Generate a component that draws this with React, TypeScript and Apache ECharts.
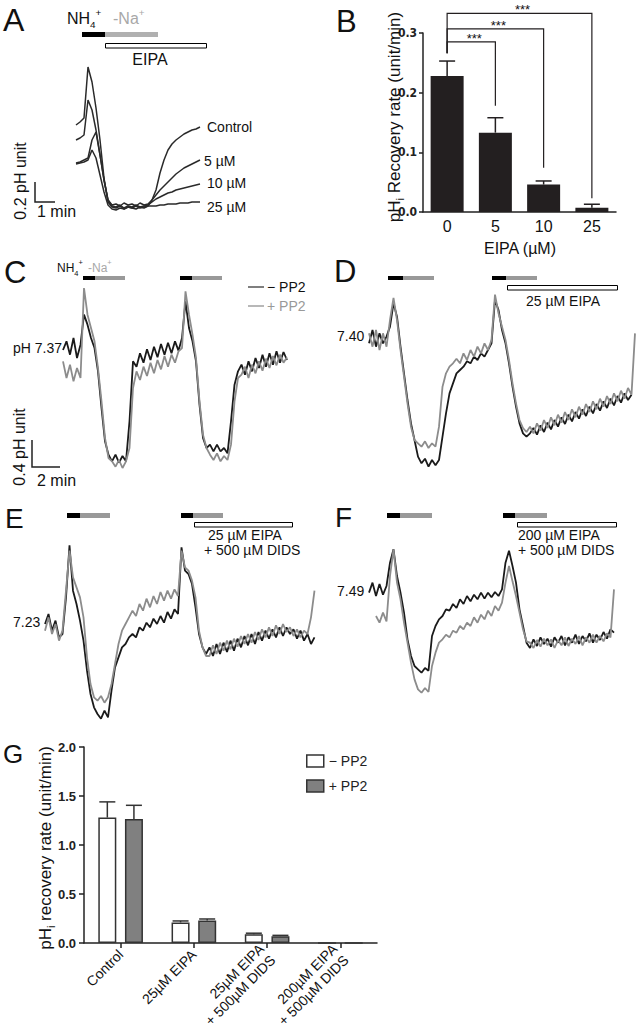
import React, { useEffect, useRef } from "react";
import * as echarts from "echarts";

const FONT = "'Liberation Sans', Arial, Helvetica, sans-serif";
const NARROW = "'Liberation Sans Narrow', 'DejaVu Sans Condensed', 'Liberation Sans', sans-serif";
const INK = "#1a1a1a";
const GREY = "#8c8c8c";

// ---------------- Panel A : pHi traces, EIPA dose (sampled every 0.2 min) ----------------
const A_SAMPLE_MIN = 0.2;
const A_CONTROL = [7.25, 7.28, 7.32, 7.83, 7.68, 7.42, 7.1, 6.72, 6.48, 6.43, 6.42, 6.44, 6.41, 6.43, 6.42, 6.44, 6.42, 6.43, 6.44, 6.5, 6.6, 6.77, 6.9, 7.0, 7.06, 7.1, 7.13, 7.16, 7.18, 7.2, 7.21, 7.23];
const A_5UM = [7.1, 7.12, 7.15, 7.5, 7.4, 7.2, 6.95, 6.7, 6.5, 6.45, 6.46, 6.44, 6.47, 6.45, 6.46, 6.44, 6.47, 6.45, 6.46, 6.5, 6.55, 6.6, 6.64, 6.68, 6.72, 6.76, 6.79, 6.82, 6.84, 6.86, 6.88, 6.9];
const A_10UM = [6.87, 6.88, 6.9, 6.92, 7.1, 7.18, 6.95, 6.7, 6.5, 6.44, 6.43, 6.45, 6.42, 6.44, 6.43, 6.45, 6.43, 6.44, 6.45, 6.48, 6.51, 6.53, 6.55, 6.57, 6.58, 6.6, 6.61, 6.62, 6.63, 6.64, 6.65, 6.66];
const A_25UM = [6.86, 6.87, 6.88, 6.9, 7.0, 6.92, 6.75, 6.58, 6.45, 6.41, 6.4, 6.42, 6.41, 6.43, 6.42, 6.41, 6.43, 6.42, 6.44, 6.44, 6.44, 6.45, 6.45, 6.46, 6.46, 6.46, 6.47, 6.47, 6.47, 6.48, 6.48, 6.48];
const A_LABELS = ["Control", "5 µM", "10 µM", "25 µM"];

// ---------------- Panel B : recovery rate vs EIPA ----------------
const B_EIPA = ["0", "5", "10", "25"];
const B_RATE = [0.228, 0.133, 0.046, 0.007];
const B_SEM = [0.025, 0.025, 0.006, 0.006];
const B_SIG_TO = [1, 2, 3];
const B_SIG_LEVEL = [0.285, 0.307, 0.333];
const B_SIG_DROP = [0.178, 0.074, 0.023];
const B_SIG_START = 0.266;
const B_SIG_TEXT = ["***", "***", "***"];

// ---------------- Panels C–F : pHi traces (sampled every 0.25 min) ----------------
const TRACE_SAMPLE_MIN = 0.25;
const C_MINUS = [7.37, 7.5, 7.3, 7.55, 7.25, 7.45, 7.9, 7.75, 7.55, 7.4, 7.05, 6.5, 6.0, 5.8, 5.7, 5.8, 5.68, 5.78, 5.7, 6.3, 7.2, 7.12, 7.32, 7.18, 7.38, 7.22, 7.42, 7.26, 7.46, 7.3, 7.48, 7.32, 7.5, 7.36, 7.55, 8.1, 7.7, 7.5, 7.2, 6.55, 6.05, 5.9, 5.95, 5.85, 5.95, 5.85, 5.9, 5.82, 6.3, 6.85, 7.05, 7.15, 7.0, 7.2, 7.05, 7.25, 7.1, 7.3, 7.12, 7.32, 7.15, 7.35, 7.18, 7.34, 7.22];
const C_PLUS = [7.2, 6.95, 7.15, 6.9, 7.1, 6.95, 8.3, 7.9, 7.7, 7.5, 7.1, 6.6, 6.05, 5.75, 5.7, 5.62, 5.72, 5.6, 5.7, 5.9, 6.8, 7.05, 6.92, 7.12, 6.98, 7.18, 7.02, 7.22, 7.08, 7.28, 7.12, 7.3, 7.18, 7.35, 7.4, 8.25, 7.9, 7.6, 7.25, 6.6, 6.1, 5.9, 5.8, 5.72, 5.82, 5.7, 5.78, 5.72, 5.95, 6.6, 6.95, 7.0, 7.12, 6.95, 7.15, 7.02, 7.2, 7.06, 7.24, 7.1, 7.28, 7.14, 7.3, 7.18, 7.26];
const D_MINUS = [7.35, 7.55, 7.3, 7.5, 7.35, 7.45, 7.6, 7.95, 7.75, 7.3, 6.9, 6.5, 6.15, 5.9, 5.65, 5.55, 5.62, 5.5, 5.6, 5.52, 5.6, 5.95, 6.3, 6.6, 6.75, 6.9, 6.95, 7.0, 7.08, 7.05, 7.15, 7.1, 7.2, 7.15, 7.25, 7.35, 8.0, 7.85, 7.55, 7.35, 7.05, 6.7, 6.4, 6.15, 6.0, 5.95, 6.0, 6.08, 5.98, 6.12, 6.02, 6.16, 6.06, 6.2, 6.1, 6.24, 6.14, 6.28, 6.18, 6.32, 6.22, 6.36, 6.26, 6.4, 6.3, 6.44, 6.34, 6.48, 6.38, 6.52, 6.42, 6.56, 6.46, 6.6, 6.5, 6.58];
const D_PLUS = [7.5, 7.3, 7.55, 7.25, 7.5, 7.3, 7.7, 8.03, 7.7, 7.25, 6.85, 6.45, 6.1, 5.9, 5.85, 5.8, 5.88, 5.78, 5.85, 5.8, 6.1, 6.7, 6.9, 7.0, 7.05, 7.12, 7.05, 7.2, 7.1, 7.25, 7.15, 7.3, 7.2, 7.35, 7.25, 7.4, 8.08, 7.8, 7.6, 7.4, 7.1, 6.75, 6.45, 6.2, 6.08, 6.02, 6.1, 6.0, 6.15, 6.04, 6.2, 6.08, 6.24, 6.12, 6.28, 6.16, 6.32, 6.2, 6.36, 6.24, 6.4, 6.28, 6.44, 6.32, 6.48, 6.36, 6.52, 6.4, 6.56, 6.44, 6.6, 6.48, 6.64, 6.52, 6.68, 6.58, 7.5];
const E_MINUS = [7.2, 7.35, 7.1, 7.25, 7.0, 7.05, 7.6, 8.38, 7.7, 7.5, 7.25, 6.95, 6.5, 6.15, 5.95, 5.85, 5.78, 5.9, 5.8, 6.2, 6.55, 6.7, 6.85, 6.9, 7.0, 7.05, 7.0, 7.15, 7.1, 7.22, 7.15, 7.28, 7.2, 7.32, 7.22, 7.38, 7.28, 7.42, 7.35, 8.35, 8.0, 7.95, 7.8, 7.45, 7.05, 6.85, 6.75, 6.85, 6.72, 6.9, 6.75, 6.92, 6.78, 6.95, 6.8, 6.98, 6.85, 7.02, 6.88, 7.05, 6.9, 7.08, 6.95, 7.1, 6.98, 7.12, 7.0, 7.15, 7.02, 7.15, 7.05, 7.12, 6.98, 7.1, 6.95, 7.05, 6.9, 7.0];
const E_PLUS = [7.1, 7.3, 7.05, 7.2, 6.95, 7.1, 7.7, 8.3, 7.9, 7.75, 7.6, 7.3, 6.7, 6.3, 6.1, 6.05, 6.12, 6.02, 6.1, 6.3, 6.6, 6.9, 7.1, 7.2, 7.3, 7.4, 7.32, 7.5, 7.4, 7.58, 7.45, 7.62, 7.5, 7.68, 7.55, 7.7, 7.58, 7.72, 7.62, 8.3, 8.05, 8.0, 7.85, 7.6, 7.1, 6.85, 6.72, 6.72, 6.88, 6.75, 6.92, 6.8, 6.95, 6.82, 6.98, 6.86, 7.02, 6.9, 7.05, 6.92, 7.08, 6.96, 7.12, 7.0, 7.15, 7.02, 7.18, 7.05, 7.2, 7.08, 7.15, 7.02, 7.12, 7.0, 7.1, 7.05, 7.3, 7.7];
const F_MINUS = [7.45, 7.6, 7.4, 7.58, 7.42, 7.55, 7.9, 8.1, 7.7, 7.45, 7.15, 6.75, 6.5, 6.35, 6.3, 6.25, 6.32, 6.28, 6.8, 6.95, 7.05, 7.1, 7.2, 7.18, 7.28, 7.22, 7.35, 7.28, 7.4, 7.32, 7.42, 7.35, 7.45, 7.36, 7.45, 7.38, 7.46, 7.4, 7.5, 7.9, 8.08, 7.85, 7.6, 7.2, 6.95, 6.7, 6.62, 6.75, 6.65, 6.78, 6.68, 6.76, 6.64, 6.78, 6.7, 6.8, 6.66, 6.78, 6.7, 6.82, 6.68, 6.8, 6.72, 6.84, 6.7, 6.82, 6.74, 6.86, 6.76, 6.9, 6.85];
const F_PLUS = [null, null, 7.1, 7.0, 7.15, 7.02, 7.7, 8.1, 7.6, 7.35, 7.0, 6.7, 6.4, 6.15, 6.0, 5.95, 6.02, 5.96, 6.35, 6.55, 6.7, 6.75, 6.82, 6.78, 6.88, 6.85, 6.95, 6.9, 7.0, 6.95, 7.08, 7.0, 7.12, 7.05, 7.18, 7.1, 7.25, 7.18, 7.3, 7.6, 7.85, 7.62, 7.4, 7.15, 6.9, 6.72, 6.7, 6.62, 6.74, 6.64, 6.76, 6.66, 6.75, 6.62, 6.74, 6.66, 6.78, 6.65, 6.76, 6.68, 6.8, 6.66, 6.78, 6.7, 6.82, 6.7, 6.8, 6.72, 6.84, 6.78, 7.5];

// ---------------- Panel G : recovery rate ± PP2 ----------------
const G_CONDITIONS = ["Control", "25µM EIPA", "25µM EIPA\n+ 500µM DIDS", "200µM EIPA\n+ 500µM DIDS"];
const G_SERIES = ["− PP2", "+ PP2"];
const G_MINUS = [1.28, 0.21, 0.09, 0];
const G_MINUS_SEM = [0.16, 0.015, 0.01, 0];
const G_PLUS = [1.265, 0.23, 0.07, 0];
const G_PLUS_SEM = [0.14, 0.015, 0.008, 0];

// ---------------- helpers ----------------
const toTrace = (vals: (number | null)[], dt: number) => vals.map((v, i) => [+(i * dt).toFixed(3), v]);

const traceSeries = (name: string, vals: (number | null)[], dt: number, grid: number, color: string, width = 1.8) => ({
  type: "line",
  name,
  xAxisIndex: grid,
  yAxisIndex: grid,
  data: toTrace(vals, dt),
  symbol: "none",
  showSymbol: false,
  connectNulls: false,
  silent: true,
  lineStyle: { color, width },
  z: 2,
});

const txt = (text: string, x: number, y: number, size: number, o: any = {}) => ({
  type: "text",
  x,
  y,
  rotation: o.rot || 0,
  silent: true,
  z: 10,
  style: {
    text,
    fontSize: size,
    fontFamily: FONT,
    fontWeight: o.weight || "normal",
    fill: o.fill || "#111",
    align: o.align || "left",
    verticalAlign: "middle",
    rich: o.rich,
  },
});

const rect = (x: number, y: number, w: number, h: number, fill: string, stroke?: string) => ({
  type: "rect",
  silent: true,
  z: 10,
  shape: { x, y, width: w, height: h },
  style: stroke ? { fill, stroke, lineWidth: 1 } : { fill },
});

const poly = (points: number[][], stroke = "#222", lw = 1.5) => ({
  type: "polyline",
  silent: true,
  z: 10,
  shape: { points },
  style: { stroke, lineWidth: lw, fill: null },
});

const ionRich = (size: number, fill: string) => ({
  m: { fontSize: size, lineHeight: size + 6, fill, fontFamily: FONT },
  b: { fontSize: size * 0.62, lineHeight: size * 0.75, verticalAlign: "bottom", fill, fontFamily: FONT },
  p: { fontSize: size * 0.62, lineHeight: size * 0.75, verticalAlign: "top", fill, fontFamily: FONT },
});

const titleRich = {
  m: { fontSize: 17, lineHeight: 23, fill: "#111", fontFamily: FONT },
  s: { fontSize: 11, lineHeight: 12, verticalAlign: "bottom", fill: "#111", fontFamily: FONT },
};

const errorSeries = (grid: number, means: number[], sems: number[], offset: number, color: string) => ({
  type: "custom",
  xAxisIndex: grid,
  yAxisIndex: grid,
  silent: true,
  z: 4,
  data: means.map((m, i) => [i, m, sems[i]]),
  renderItem: (params: any, api: any) => {
    const i = api.value(0);
    const m = api.value(1);
    const e = api.value(2);
    if (!e) return null;
    const p0 = api.coord([i, m]);
    const p1 = api.coord([i, m + e]);
    const x = p0[0] + offset;
    return {
      type: "group",
      children: [
        { type: "line", shape: { x1: x, y1: p0[1], x2: x, y2: p1[1] }, style: { stroke: color, lineWidth: 1.5 } },
        { type: "line", shape: { x1: x - 8, y1: p1[1], x2: x + 8, y2: p1[1] }, style: { stroke: color, lineWidth: 1.5 } },
      ],
    };
  },
});

const hiddenAxis = (grid: number, min: number, max: number) => ({ type: "value", gridIndex: grid, min, max, show: false });

export default function App() {
  const ref = useRef<HTMLDivElement>(null);

  useEffect(() => {
    if (!ref.current) return;
    const chart = echarts.init(ref.current, null, { renderer: "svg" });

    const grids = [
      { left: 76, top: 60, width: 130, height: 160 }, // A
      { left: 423, top: 33, width: 193, height: 179 }, // B
      { left: 63, top: 280, width: 238, height: 200 }, // C
      { left: 369, top: 280, width: 273, height: 200 }, // D
      { left: 45, top: 530, width: 280, height: 200 }, // E
      { left: 369, top: 530, width: 252, height: 200 }, // F
      { left: 84, top: 747, width: 293, height: 196 }, // G
    ].map((g) => ({ ...g, outerBoundsMode: "none", containLabel: false }));

    const axisLine = { show: true, lineStyle: { color: "#222", width: 1.5 } };

    const xAxis: any[] = [
      hiddenAxis(0, 0, 6.5),
      {
        type: "category",
        gridIndex: 1,
        data: B_EIPA,
        axisLine,
        axisTick: { show: false },
        axisLabel: { fontSize: 16, fontFamily: FONT, color: "#111", margin: 6 },
        splitLine: { show: false },
      },
      hiddenAxis(2, 0, 17),
      hiddenAxis(3, 0, 19.5),
      hiddenAxis(4, 0, 20),
      hiddenAxis(5, 0, 18),
      {
        type: "category",
        gridIndex: 6,
        data: G_CONDITIONS,
        axisLine,
        axisTick: { show: true, alignWithLabel: true, length: 5, lineStyle: { color: "#222", width: 1.5 } },
        axisLabel: {
          interval: 0,
          rotate: 45,
          margin: 9,
          fontSize: 14,
          fontFamily: FONT,
          color: "#111",
          lineHeight: 16,
        },
        splitLine: { show: false },
      },
    ];

    const yAxis: any[] = [
      hiddenAxis(0, 6.3, 7.9),
      {
        type: "value",
        gridIndex: 1,
        min: 0,
        max: 0.3,
        interval: 0.1,
        axisLine,
        axisTick: { show: true, length: 4, lineStyle: { color: "#222", width: 1.5 } },
        axisLabel: {
          fontFamily: NARROW,
          fontWeight: "bold",
          fontSize: 12,
          color: "#222",
          margin: 6,
          formatter: (v: number) => v.toFixed(1),
        },
        splitLine: { show: false },
      },
      hiddenAxis(2, 5.42, 8.42),
      hiddenAxis(3, 5.3, 8.3),
      hiddenAxis(4, 5.61, 8.61),
      hiddenAxis(5, 5.39, 8.39),
      {
        type: "value",
        gridIndex: 6,
        min: 0,
        max: 2,
        interval: 0.5,
        axisLine,
        axisTick: { show: true, length: 5, lineStyle: { color: "#222", width: 1.5 } },
        axisLabel: {
          fontFamily: FONT,
          fontWeight: "bold",
          fontSize: 13,
          color: "#222",
          margin: 8,
          formatter: (v: number) => v.toFixed(1),
        },
        splitLine: { show: false },
      },
    ];

    const series: any[] = [
      // A
      traceSeries(A_LABELS[0], A_CONTROL, A_SAMPLE_MIN, 0, "#2a2a2a", 1.5),
      traceSeries(A_LABELS[1], A_5UM, A_SAMPLE_MIN, 0, "#2a2a2a", 1.5),
      traceSeries(A_LABELS[2], A_10UM, A_SAMPLE_MIN, 0, "#2a2a2a", 1.5),
      traceSeries(A_LABELS[3], A_25UM, A_SAMPLE_MIN, 0, "#2a2a2a", 1.5),
      // B
      {
        type: "bar",
        xAxisIndex: 1,
        yAxisIndex: 1,
        data: B_RATE,
        barWidth: 33,
        silent: true,
        itemStyle: { color: "#231f20" },
        z: 3,
      },
      errorSeries(1, B_RATE, B_SEM, 0, "#231f20"),
      {
        type: "custom",
        xAxisIndex: 1,
        yAxisIndex: 1,
        silent: true,
        clip: false,
        z: 4,
        data: B_SIG_TO.map((to, k) => [0, to, B_SIG_LEVEL[k], B_SIG_DROP[k]]),
        renderItem: (params: any, api: any) => {
          const from = api.value(0);
          const to = api.value(1);
          const h = api.value(2);
          const d = api.value(3);
          const a = api.coord([from, B_SIG_START]);
          const b = api.coord([from, h]);
          const c = api.coord([to, h]);
          const e = api.coord([to, d]);
          return {
            type: "group",
            children: [
              { type: "polyline", shape: { points: [a, b, c, e] }, style: { stroke: "#231f20", lineWidth: 1.2, fill: null } },
              {
                type: "text",
                x: (b[0] + c[0]) / 2 + 3,
                y: b[1] - 3.5,
                style: {
                  text: B_SIG_TEXT[params.dataIndex],
                  fontSize: 13,
                  lineHeight: 9,
                  fontFamily: FONT,
                  fill: "#111",
                  align: "center",
                  verticalAlign: "middle",
                },
              },
            ],
          };
        },
      },
      // C
      traceSeries("C −PP2", C_MINUS, TRACE_SAMPLE_MIN, 2, INK),
      traceSeries("C +PP2", C_PLUS, TRACE_SAMPLE_MIN, 2, GREY),
      // D
      traceSeries("D −PP2", D_MINUS, TRACE_SAMPLE_MIN, 3, INK),
      traceSeries("D +PP2", D_PLUS, TRACE_SAMPLE_MIN, 3, GREY),
      // E
      traceSeries("E −PP2", E_MINUS, TRACE_SAMPLE_MIN, 4, INK),
      traceSeries("E +PP2", E_PLUS, TRACE_SAMPLE_MIN, 4, GREY),
      // F
      traceSeries("F −PP2", F_MINUS, TRACE_SAMPLE_MIN, 5, INK),
      traceSeries("F +PP2", F_PLUS, TRACE_SAMPLE_MIN, 5, GREY),
      // G
      {
        type: "bar",
        name: G_SERIES[0],
        xAxisIndex: 6,
        yAxisIndex: 6,
        data: G_MINUS,
        barWidth: 18,
        barGap: "48%",
        silent: true,
        itemStyle: { color: "#ffffff", borderColor: "#333", borderWidth: 1.5 },
        z: 3,
      },
      {
        type: "bar",
        name: G_SERIES[1],
        xAxisIndex: 6,
        yAxisIndex: 6,
        data: G_PLUS,
        barWidth: 18,
        barGap: "48%",
        silent: true,
        itemStyle: { color: "#808080", borderColor: "#333", borderWidth: 1.5 },
        z: 3,
      },
      errorSeries(6, G_MINUS, G_MINUS_SEM, -13.3, "#333"),
      errorSeries(6, G_PLUS, G_PLUS_SEM, 13.3, "#333"),
    ];

    const graphic: any[] = [
      // panel letters
      txt("A", 3, 20, 32),
      txt("B", 336, 21, 31),
      txt("C", 4, 272, 31),
      txt("D", 334, 271, 31),
      txt("E", 5, 518, 28),
      txt("F", 335, 517, 28),
      txt("G", 3, 754, 26),

      // A header
      txt("{m|NH}{b|4}{p|+}", 67, 18, 16, { rich: ionRich(16, "#111") }),
      txt("{m|-Na}{p|+}", 113, 18, 16, { rich: ionRich(16, "#a8a8a8") }),
      rect(82, 32, 23, 5, "#000"),
      rect(105, 32, 53, 5, "#b0b0b0"),
      rect(105.5, 43.5, 101, 4.5, "#fff", "#000"),
      txt("EIPA", 150, 59, 16, { align: "center" }),
      txt(A_LABELS[0], 207, 127, 14),
      txt(A_LABELS[1], 204, 161, 14),
      txt(A_LABELS[2], 207, 183, 14),
      txt(A_LABELS[3], 207, 207, 14),
      poly([[35, 182], [35, 202], [55, 202]]),
      txt("0.2 pH unit", 20, 181, 16, { align: "center", rot: Math.PI / 2 }),
      txt("1 min", 37, 211, 16),

      // B titles
      txt("{m|pH}{s|i}{m| Recovery rate (unit/min)}", 394, 117, 17, { align: "center", rot: Math.PI / 2, rich: titleRich }),
      txt("EIPA (µM)", 520, 248, 16, { align: "center" }),

      // C header
      txt("{m|NH}{b|4}{p|+}", 57, 268, 12, { rich: ionRich(12, "#111") }),
      txt("{m|-Na}{p|+}", 88, 268, 12, { rich: ionRich(12, "#a8a8a8") }),
      rect(83, 276, 12, 4, "#000"),
      rect(95, 276, 30, 4, "#999"),
      rect(180, 276, 12, 4, "#000"),
      rect(192, 276, 30, 4, "#999"),
      poly([[248, 287], [264, 287]], "#555", 1.5),
      txt("− PP2", 267, 287, 14, { fill: "#111" }),
      poly([[248, 306], [264, 306]], "#a0a0a0", 1.5),
      txt("+ PP2", 267, 306, 14, { fill: "#999" }),
      txt("pH 7.37", 13, 348, 14),
      poly([[32, 440], [32, 467], [60, 467]]),
      txt("0.4 pH unit", 19, 447, 16, { align: "center", rot: Math.PI / 2 }),
      txt("2 min", 37, 480, 16),

      // D header
      rect(388, 276, 15, 4, "#000"),
      rect(403, 276, 31, 4, "#999"),
      rect(492, 276, 14, 4, "#000"),
      rect(506, 276, 31, 4, "#999"),
      rect(507.5, 285.5, 110, 4.5, "#fff", "#000"),
      txt("25 µM EIPA", 563, 301, 14, { align: "center" }),
      txt("7.40", 337, 336, 14),

      // E header
      rect(67, 513, 13, 5, "#000"),
      rect(80, 513, 30, 5, "#999"),
      rect(181, 513, 12, 5, "#000"),
      rect(193, 513, 30, 5, "#999"),
      rect(194.5, 522.5, 98, 4.5, "#fff", "#000"),
      txt("25 µM EIPA", 208, 535, 14),
      txt("+ 500 µM DIDS", 204, 550, 14),
      txt("7.23", 13, 622, 14),

      // F header
      rect(387, 513, 13, 5, "#000"),
      rect(400, 513, 32, 5, "#999"),
      rect(503, 513, 12, 5, "#000"),
      rect(515, 513, 32, 5, "#999"),
      rect(517.5, 522.5, 99, 4.5, "#fff", "#000"),
      txt("200 µM EIPA", 518, 535, 14),
      txt("+ 500 µM DIDS", 518, 550, 14),
      txt("7.49", 337, 591, 14),

      // G title
      txt("{m|pH}{s|i}{m| recovery rate (unit/min)}", 45, 848, 17, { align: "center", rot: Math.PI / 2, rich: titleRich }),
    ];

    chart.setOption({
      animation: false,
      backgroundColor: "#ffffff",
      textStyle: { fontFamily: FONT },
      grid: grids,
      xAxis,
      yAxis,
      series,
      legend: {
        data: G_SERIES,
        orient: "vertical",
        left: 301,
        top: 749,
        itemWidth: 17,
        itemHeight: 12,
        itemGap: 11,
        icon: "rect",
        selectedMode: false,
        textStyle: { fontSize: 14, fontFamily: FONT, color: "#222" },
        itemStyle: { borderColor: "#333", borderWidth: 1.5 },
      },
      graphic,
    });

    return () => chart.dispose();
  }, []);

  return <div ref={ref} style={{ position: "absolute", left: 0, top: 0, width: 641, height: 1030 }} />;
}
